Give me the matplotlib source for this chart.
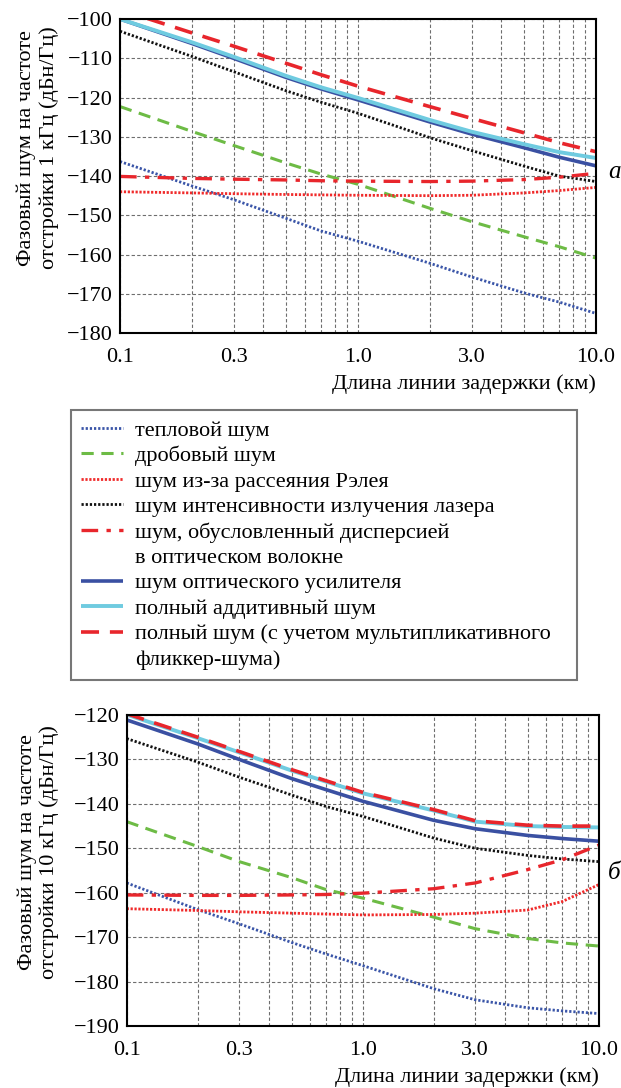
import numpy as np
import matplotlib
matplotlib.use("Agg")
import matplotlib.pyplot as plt
from matplotlib.lines import Line2D

plt.rcParams['font.family'] = ['Liberation Serif', 'DejaVu Serif']
plt.rcParams['font.size'] = 16
plt.rcParams['axes.unicode_minus'] = True

# длина линии задержки, км
L = [0.1, 0.2, 0.3, 0.5, 0.7, 1.0, 2.0, 3.0, 5.0, 7.0, 10.0]

# (а) отстройка 1 кГц, дБн/Гц
thermal_1k = [-136.3, -142.5, -146.0, -150.8, -154.0, -156.6, -162.2, -165.7, -169.8, -172.1, -175.0]
shot_1k = [-122.3, -128.6, -132.2, -136.7, -139.5, -142.1, -148.2, -151.6, -155.5, -158.0, -160.9]
rayleigh_1k = [-144.0, -144.3, -144.5, -144.7, -144.8, -144.9, -145.0, -144.9, -144.3, -143.7, -142.9]
rin_1k = [-103.1, -109.5, -113.4, -118.3, -121.2, -124.0, -130.2, -133.5, -137.5, -140.0, -141.4]
disp_1k = [-140.1, -140.6, -140.8, -141.0, -141.2, -141.3, -141.4, -141.3, -140.9, -140.3, -139.3]
amp_1k = [-100.0, -106.2, -110.0, -114.9, -117.8, -120.6, -126.2, -129.3, -132.8, -135.2, -137.4]
additive_1k = [-100.0, -105.9, -109.6, -114.5, -117.4, -120.1, -125.7, -128.7, -131.9, -133.9, -135.4]
total_1k = [-97.6, -103.5, -106.9, -111.3, -114.2, -117.1, -122.3, -125.3, -129.0, -131.5, -133.8]

# (б) отстройка 10 кГц, дБн/Гц
thermal_10k = [-157.8, -163.8, -167.0, -171.2, -173.8, -176.4, -181.6, -184.1, -185.9, -186.6, -187.2]
shot_10k = [-144.0, -149.6, -153.0, -156.6, -159.3, -161.2, -165.5, -168.1, -170.3, -171.3, -172.0]
rayleigh_10k = [-163.6, -164.0, -164.3, -164.6, -164.8, -165.0, -164.9, -164.6, -163.9, -162.0, -158.2]
rin_10k = [-125.3, -130.6, -134.0, -138.0, -140.6, -142.8, -147.7, -150.0, -151.6, -152.4, -153.0]
disp_10k = [-160.5, -160.6, -160.6, -160.5, -160.4, -160.1, -159.1, -157.8, -154.8, -152.6, -149.3]
amp_10k = [-121.1, -126.5, -130.0, -134.3, -136.8, -139.4, -143.7, -145.6, -147.1, -147.8, -148.4]
additive_10k = [-119.9, -125.2, -128.4, -132.5, -135.0, -137.6, -141.5, -144.0, -145.0, -145.2, -145.3]
total_10k = [-119.7, -125.0, -128.2, -132.3, -134.8, -137.4, -141.3, -143.8, -144.8, -145.0, -145.0]

labels = [
    "тепловой шум",
    "дробовый шум",
    "шум из-за рассеяния Рэлея",
    "шум интенсивности излучения лазера",
    "шум, обусловленный дисперсией",
    "шум оптического усилителя",
    "полный аддитивный шум",
    "полный шум (с учетом мультипликативного",
]

styles = [
    dict(color='#3a55a8', lw=2.0, ls=(0, (0.8, 0.7))),
    dict(color='#6dbb45', lw=2.2, ls=(0, (4, 2.5))),
    dict(color='#f02a2a', lw=2.0, ls=(0, (0.8, 0.6))),
    dict(color='#111111', lw=2.0, ls=(0, (0.8, 0.7))),
    dict(color='#e8262c', lw=2.4, ls=(0, (5, 2.5, 1.3, 2.5))),
    dict(color='#3a50a2', lw=2.6, ls='-'),
    dict(color='#6fcbe0', lw=2.8, ls='-'),
    dict(color='#e8262c', lw=2.6, ls=(0, (5, 3))),
]

x_ticks = [0.1, 0.3, 1.0, 3.0, 10.0]
x_tick_labels = ['0.1', '0.3', '1.0', '3.0', '10.0']
x_minor = [0.2, 0.4, 0.5, 0.6, 0.7, 0.8, 0.9, 2, 4, 5, 6, 7, 8, 9]


def draw_panel(ax, series, ylim, ylabel, label_xy):
    lines = []
    for y, st in zip(series, styles):
        ln, = ax.plot(L, y, color=st['color'], lw=st['lw'], ls=st['ls'],
                      solid_capstyle='butt', dash_capstyle='butt')
        lines.append(ln)
    ax.set_xscale('log')
    ax.set_xlim(0.1, 10.0)
    ax.set_ylim(*ylim)
    ax.set_xticks(x_ticks)
    ax.set_xticklabels(x_tick_labels)
    ax.set_xticks(x_minor, minor=True)
    ax.xaxis.set_minor_formatter(plt.NullFormatter())
    ax.set_yticks(np.arange(ylim[0], ylim[1] + 1, 10))
    ax.grid(True, which='both', axis='x', color='#6e6e6e', lw=0.8, ls=(0, (3, 2)))
    ax.grid(True, which='major', axis='y', color='#6e6e6e', lw=0.8, ls=(0, (3, 2)))
    ax.set_axisbelow(True)
    ax.tick_params(which='both', length=0)
    ax.tick_params(axis='x', pad=11)
    ax.tick_params(axis='y', pad=5)
    for sp in ax.spines.values():
        sp.set_linewidth(1.5)
        sp.set_color('black')
    ax.set_ylabel(ylabel, linespacing=1.2)
    ax.yaxis.set_label_coords(*label_xy)
    ax.set_xlabel("Длина линии задержки (км)", loc='right', labelpad=5)
    return lines


fig = plt.figure(figsize=(6.21, 10.88), dpi=100)

ax1 = fig.add_axes([0.1932, 0.6939, 0.7665, 0.2886])
lines = draw_panel(ax1, [thermal_1k, shot_1k, rayleigh_1k, rin_1k, disp_1k,
                         amp_1k, additive_1k, total_1k],
                   (-180, -100), "Фазовый шум на частоте\nотстройки 1 кГц (дБн/Гц)",
                   (-0.128, 0.59))

ax2 = fig.add_axes([0.204, 0.057, 0.760, 0.2858])
draw_panel(ax2, [thermal_10k, shot_10k, rayleigh_10k, rin_10k, disp_10k,
                 amp_10k, additive_10k, total_10k],
           (-190, -120), "Фазовый шум на частоте\nотстройки 10 кГц (дБн/Гц)",
           (-0.143, 0.56))

fig.text(0.989, 0.842, "a", style='italic', ha='center', va='center', fontsize=18)
fig.text(0.989, 0.198, "б", style='italic', ha='center', va='center', fontsize=18)

# легенда: переносы строк как отдельные строки без маркера
blank = Line2D([], [], color='none')
handles = lines[:5] + [blank] + lines[5:] + [blank]
leg_labels = labels[:5] + ["в оптическом волокне"] + labels[5:] + ["фликкер-шума)"]

lax = fig.add_axes([0.1143, 0.374, 0.8148, 0.249])
lax.axis('off')
leg = lax.legend(handles, leg_labels, loc='upper left', bbox_to_anchor=(0, 0, 1, 1),
                 mode='expand', borderaxespad=0, fancybox=False, frameon=True,
                 handlelength=1.9, handletextpad=0.55, labelspacing=0.22,
                 borderpad=0.45, fontsize=16)
leg.get_frame().set_edgecolor('#555555')
leg.get_frame().set_linewidth(1.5)

fig.savefig("out.png", dpi=100)
